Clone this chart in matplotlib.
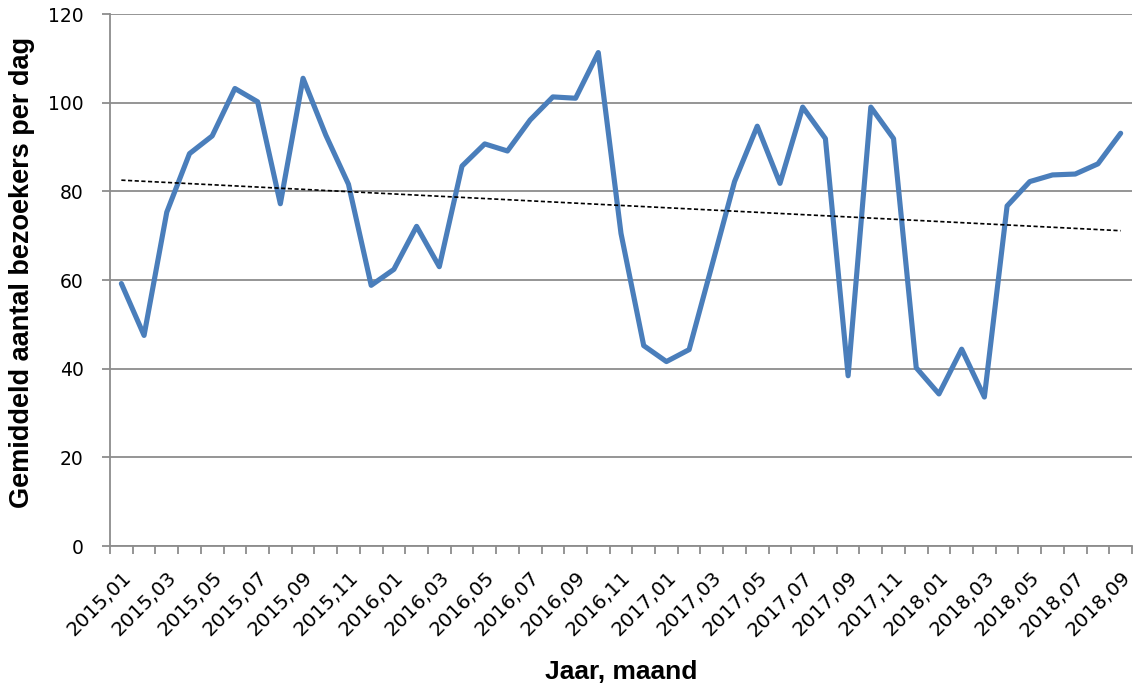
import numpy as np
import matplotlib
matplotlib.use("Agg")
import matplotlib.pyplot as plt

# months 2015,01 .. 2018,09
maanden = [f"{j},{m:02d}" for j in (2015, 2016, 2017, 2018) for m in range(1, 13)][:45]

# gemiddeld aantal bezoekers per dag
bezoekers = [
    59.2, 47.5, 75.3, 88.5, 92.5, 103.2, 100.2, 77.2, 105.5, 92.7,
    81.6, 58.8, 62.4, 72.1, 63.0, 85.7, 90.7, 89.1, 96.1, 101.3,
    101.0, 111.3, 70.5, 45.2, 41.6, 44.3, 63.2, 82.2, 94.7, 81.8,
    99.0, 91.9, 38.4, 99.0, 91.9, 40.2, 34.3, 44.4, 33.6, 76.7,
    82.2, 83.7, 83.9, 86.2, 93.1,
]

x = np.arange(len(bezoekers))
y = np.array(bezoekers)
slope, intercept = np.polyfit(x, y, 1)  # lineaire trendlijn

fig = plt.figure(figsize=(11.34, 6.86), dpi=100)
ax = fig.add_axes([110 / 1134, 140 / 686, 1022 / 1134, 532 / 686])

grid_col = "#8c8c8c"
ax.set_ylim(0, 120)
ax.set_xlim(-0.5, len(x) - 0.5)
ax.set_yticks(range(0, 121, 20))
ax.yaxis.grid(True, color=grid_col, linewidth=1.3)
ax.set_axisbelow(True)

ax.plot(x, y, color="#4A7EBB", linewidth=3.7, solid_joinstyle="round",
        solid_capstyle="round", zorder=3)
ax.plot(x, slope * x + intercept, color="black", linewidth=1.2,
        linestyle=(0, (2.5, 1.5)), zorder=4)

for s in ("top", "right"):
    ax.spines[s].set_visible(False)
for s in ("left", "bottom"):
    ax.spines[s].set_color(grid_col)
    ax.spines[s].set_linewidth(1.3)

# category boundaries as tick marks, labels every 2 months
ax.set_xticks(np.arange(-0.5, len(x), 1), minor=True)
ax.set_xticks(x[::2])
ax.set_xticklabels(maanden[::2], rotation=45, ha="right", rotation_mode="anchor",
                   fontsize=14.3)
ax.tick_params(axis="x", which="major", length=0, pad=16)
ax.tick_params(axis="x", which="minor", length=6, color=grid_col, width=1.3)
ax.tick_params(axis="y", length=6, color=grid_col, width=1.3, labelsize=13.5, pad=13)

ax.set_ylabel("Gemiddeld aantal bezoekers per dag", fontsize=19.5, fontweight="bold",
              family="Liberation Sans")
ax.yaxis.set_label_coords(-0.073, 0.515)
ax.set_xlabel("Jaar, maand", fontsize=19, fontweight="bold", family="Liberation Sans")
ax.xaxis.set_label_coords(0.5, -0.215)

fig.savefig("out.png", dpi=100)
